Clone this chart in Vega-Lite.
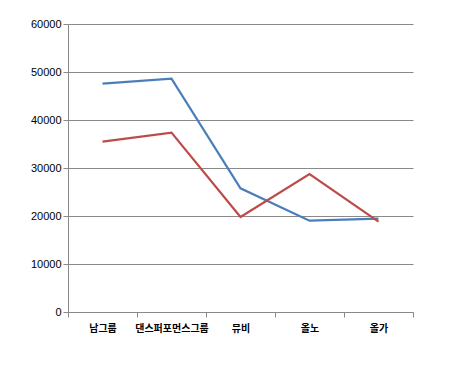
{
  "$schema": "https://vega.github.io/schema/vega-lite/v6.json",
  "autosize": {"type": "none"},
  "width": 345,
  "height": 288,
  "padding": {"left": 68, "top": 24, "right": 40, "bottom": 61},
  "background": "white",
  "config": {"view": {"stroke": null}},
  "data": {
    "values": [
      {"category": "남그룹", "series": "A", "value": 47560},
      {"category": "댄스퍼포먼스그룹", "series": "A", "value": 48600},
      {"category": "뮤비", "series": "A", "value": 25770},
      {"category": "올노", "series": "A", "value": 19020},
      {"category": "올가", "series": "A", "value": 19440},
      {"category": "남그룹", "series": "B", "value": 35480},
      {"category": "댄스퍼포먼스그룹", "series": "B", "value": 37360},
      {"category": "뮤비", "series": "B", "value": 19790},
      {"category": "올노", "series": "B", "value": 28750},
      {"category": "올가", "series": "B", "value": 18820}
    ]
  },
  "mark": {"type": "line", "strokeWidth": 2.2},
  "encoding": {
    "x": {
      "field": "category",
      "type": "nominal",
      "sort": null,
      "scale": {"paddingInner": 0, "paddingOuter": 0},
      "axis": {
        "title": null,
        "labelAngle": 0,
        "tickBand": "extent",
        "domainColor": "#888888",
        "tickColor": "#888888",
        "tickSize": 5,
        "labelFont": "Noto Sans CJK KR",
        "labelFontWeight": "bold",
        "labelFontSize": 10,
        "labelColor": "#000000",
        "labelPadding": 6
      }
    },
    "y": {
      "field": "value",
      "type": "quantitative",
      "scale": {"domain": [0, 60000]},
      "axis": {
        "title": null,
        "values": [0, 10000, 20000, 30000, 40000, 50000, 60000],
        "grid": true,
        "gridColor": "#8a8a8a",
        "gridWidth": 1,
        "domainColor": "#888888",
        "tickColor": "#888888",
        "tickSize": 5,
        "labelFont": "Liberation Sans",
        "labelFontSize": 11,
        "labelColor": "#000000",
        "labelPadding": 2,
        "format": "d"
      }
    },
    "color": {
      "field": "series",
      "type": "nominal",
      "scale": {"domain": ["A", "B"], "range": ["#4a7ebb", "#be4b48"]},
      "legend": null
    }
  }
}
